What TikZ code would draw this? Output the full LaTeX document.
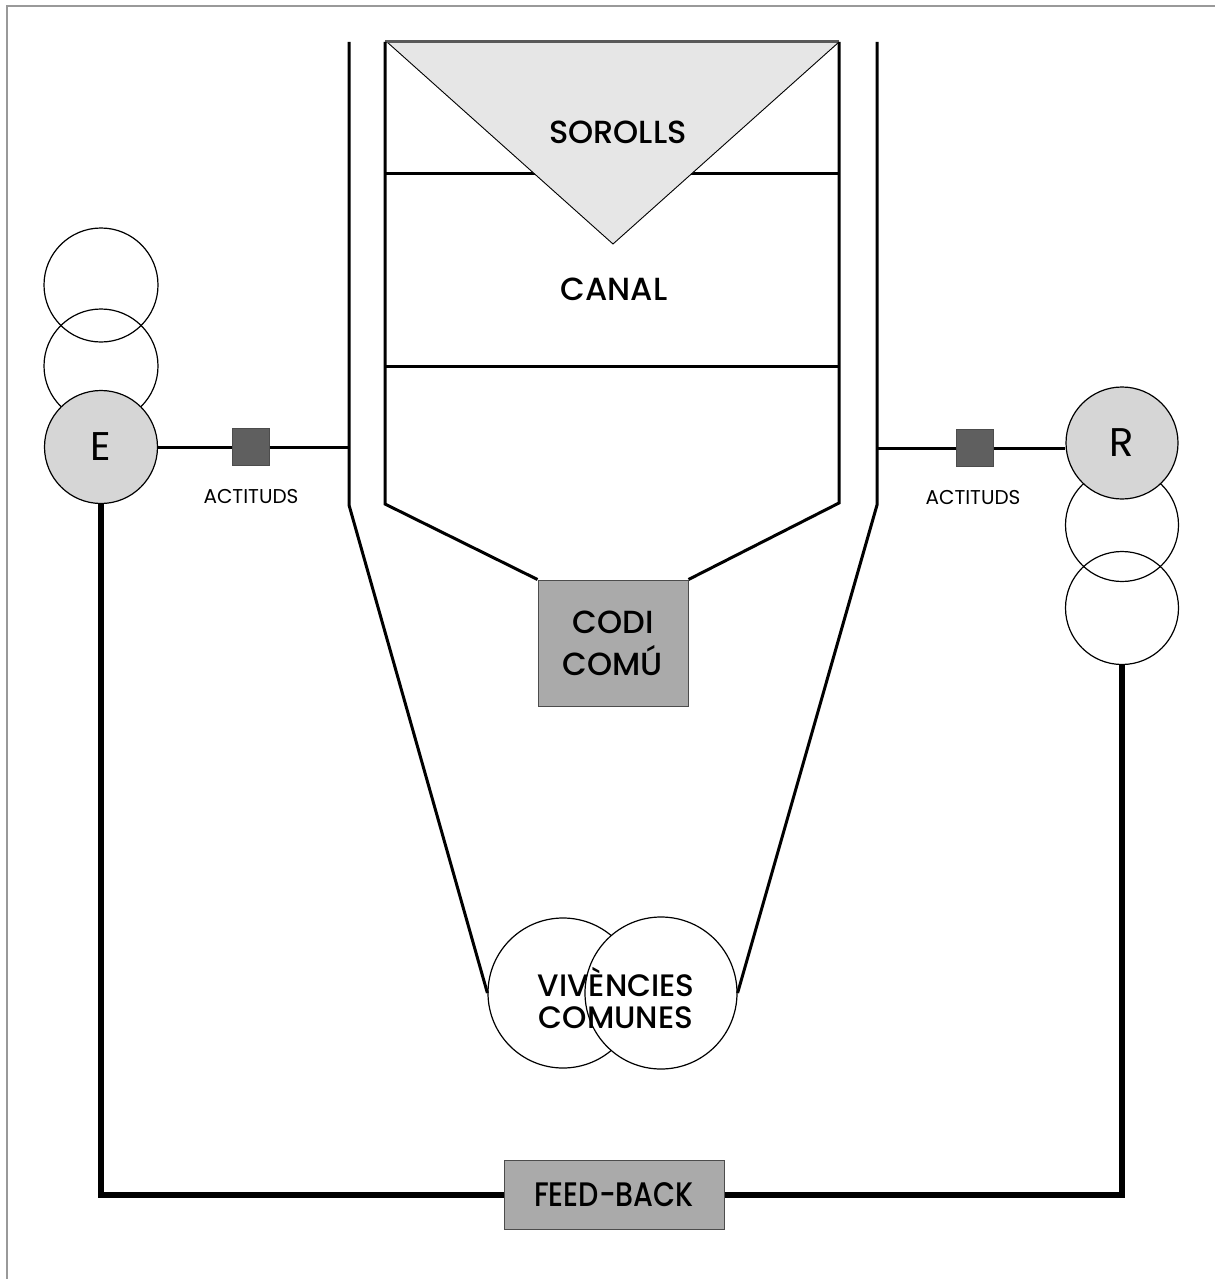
\documentclass[tikz,border=0pt]{standalone}
\usepackage{fontspec}
\setmainfont{Poppins}[UprightFont=* Medium]
\newfontfamily\regfont{Poppins}
\usepackage{graphicx}
\definecolor{trifill}{HTML}{E6E6E6}
\definecolor{agentfill}{HTML}{D6D6D6}
\definecolor{boxfill}{HTML}{AAAAAA}
\definecolor{sqfill}{HTML}{5F5F5F}
\definecolor{framegray}{HTML}{999999}
\begin{document}
\begin{tikzpicture}[x=1pt,y=-1pt,
  heavy/.style={line width=3pt, line join=miter},
  feedline/.style={line width=5.5pt, line join=miter},
  ring/.style={circle, draw, line width=1.2pt, inner sep=0pt},
  agent/.style={ring, fill=agentfill, font=\regfont\fontsize{40}{40}\selectfont},
  sqbox/.style={rectangle, draw=black!70, fill=sqfill, line width=0.8pt, minimum size=37pt, inner sep=0pt},
  graybox/.style={rectangle, draw=black!70, fill=boxfill, line width=1pt, inner sep=0pt, align=center},
  bigtxt/.style={font=\fontsize{32}{32}\selectfont, inner sep=0pt},
  smalltxt/.style={font=\regfont\fontsize{20}{20}\selectfont, inner sep=0pt, anchor=base}
]
\useasboundingbox (0,0) rectangle (1215,1279);
\fill[white] (0,0) rectangle (1215,1279);
\draw[framegray, line width=2pt] (7,1279) -- (7,6) -- (1215,6);

% channel compartments
\draw[heavy] (385,173) -- (839,173);
\draw[heavy] (385,366) -- (839,366);

% noise triangle
\fill[trifill] (387,42) -- (613,244) -- (839,42) -- cycle;
\draw[line width=0.9pt] (387,42) -- (613,244) -- (839,42);
\draw[line width=3pt, black!65] (385,42) -- (839,42);

% shared code box
\node[graybox, minimum width=150pt, minimum height=126pt, font=\fontsize{32}{42}\selectfont] (codi) at (613,643) {CODI\\COMÚ};

% shared experiences circles
\node[ring, minimum size=150pt] (vL) at (563,993) {};
\node[ring, fill=white, minimum size=152pt] (vR) at (661,993) {};

% inner channel walls
\draw[heavy] (385,42) -- (385,504) -- (codi.north west);
\draw[heavy] (839,42) -- (839,503) -- (codi.north east);

% outer funnel
\draw[heavy] (349,42) -- (349,505) -- (vL.west);
\draw[heavy] (877,42) -- (877,505) -- (vR.east);

% texts in channel
\node[bigtxt, anchor=base] (sor) at (618,143) {SOROLLS};
\node[bigtxt, anchor=base] (can) at (614,300) {CANAL};
\node[font=\fontsize{31}{32}\selectfont, inner sep=0pt, align=center] (viv) at (616,998) {VIVÈNCIES\\COMUNES};

% sender stack
\node[ring, minimum size=114pt] (e1) at (101,285) {};
\node[ring, minimum size=114pt] (e2) at (101,366) {};
\node[agent, minimum size=113pt] (E) at (101,447) {E};

% receiver stack
\node[ring, minimum size=113pt] (r2) at (1122,525) {};
\node[ring, minimum size=113pt] (r3) at (1122,608) {};
\node[agent, minimum size=112pt] (R) at (1122,443) {R};

% attitudes
\coordinate (fl) at (349,447);
\coordinate (fr) at (877,448);
\node[sqbox] (sqL) at (251,447) {};
\node[sqbox] (sqR) at (975,448) {};
\draw[heavy] (E.east) -- (sqL.west);
\draw[heavy] (sqL.east) -- (fl);
\draw[heavy] (fr) -- (sqR.west);
\draw[heavy] (sqR.east) -- (sqR.east -| R.west);
\node[smalltxt] (aL) at (251,503) {ACTITUDS};
\node[smalltxt] (aR) at (973,504) {ACTITUDS};

% feedback
\node[graybox, minimum width=220pt, minimum height=69pt, font=\fontsize{34}{34}\selectfont] (fb) at (614,1195) {\scalebox{0.84}[1]{FEED-BACK}};
\draw[feedline] (E.south) |- (fb.west);
\draw[feedline] (fb.east) -| (r3.south);
\end{tikzpicture}
\end{document}
